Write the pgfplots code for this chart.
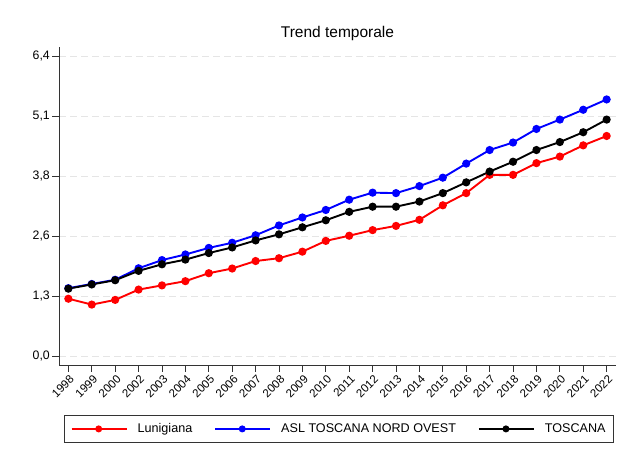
\documentclass[border=0pt]{standalone}
\usepackage{pgfplots}
\pgfplotsset{compat=1.18}
\usepackage{fontspec}
\setmainfont{Liberation Sans}
\begin{document}
\begin{tikzpicture}
\useasboundingbox (-59pt,-92pt) rectangle (562pt,365pt);
\begin{axis}[
  at={(0,0)}, anchor=south west,
  scale only axis, width=557pt, height=318pt,
  xmin=-0.4, xmax=23.4, ymin=-0.19, ymax=6.6,
  axis x line*=bottom, axis y line*=left,
  axis line style={draw=black!80, line width=0.8pt},
  xtick={0,...,23},
  xticklabels={1998,1999,2000,2002,2003,2004,2005,2006,2007,2008,2009,2010,2011,2012,2013,2014,2015,2016,2017,2018,2019,2020,2021,2022},
  ytick={0,1.28,2.56,3.84,5.12,6.4},
  yticklabels={{0,0},{1,3},{2,6},{3,8},{5,1},{6,4}},
  tick align=outside, major tick length=7pt,
  tick style={draw=black!80, line width=0.8pt},
  x tick label style={rotate=45, anchor=north east, font=\fontsize{11.5}{12}\selectfont, inner sep=1pt, yshift=-1pt},
  y tick label style={font=\fontsize{12.3}{13}\selectfont, inner sep=2pt},
  ymajorgrids, major grid style={dash pattern=on 7pt off 4pt, draw=black!10, line width=0.8pt},
  title={Trend temporale},
  title style={at={(0.5,1)}, anchor=center, yshift=7pt, font=\fontsize{15.5}{16}\selectfont},
  every axis plot/.append style={line width=1.9pt, mark=*, mark size=3.1pt},
  legend columns=3,
  legend style={at={(0.503,-0.201)}, anchor=center, draw=black!80, line width=0.8pt,
    font=\fontsize{12.6}{13}\selectfont, inner xsep=6pt, inner ysep=6pt,
    /tikz/every odd column/.append style={column sep=8pt},
    /tikz/every even column/.append style={column sep=20pt}},
  legend cell align=left,
  legend image code/.code={\draw[mark repeat=2, mark phase=2, #1, mark size=2.5pt] plot coordinates {(0pt,0pt) (27pt,0pt) (55pt,0pt)};},
]
\addplot[red, mark options={fill=red}] table {
x y
0 1.225
1 1.10
2 1.20
3 1.42
4 1.51
5 1.60
6 1.77
7 1.87
8 2.03
9 2.09
10 2.23
11 2.46
12 2.57
13 2.69
14 2.78
15 2.91
16 3.22
17 3.48
18 3.87
19 3.87
20 4.12
21 4.26
22 4.50
23 4.70
};
\addlegendentry{Lunigiana}
\addplot[blue, mark options={fill=blue}] table {
x y
0 1.45
1 1.54
2 1.63
3 1.875
4 2.05
5 2.17
6 2.31
7 2.42
8 2.58
9 2.79
10 2.96
11 3.12
12 3.34
13 3.49
14 3.48
15 3.63
16 3.81
17 4.11
18 4.40
19 4.56
20 4.85
21 5.05
22 5.26
23 5.48
};
\addlegendentry{ASL TOSCANA NORD OVEST}
\addplot[black, mark options={fill=black}] table {
x y
0 1.44
1 1.53
2 1.62
3 1.82
4 1.96
5 2.06
6 2.20
7 2.32
8 2.47
9 2.60
10 2.75
11 2.90
12 3.08
13 3.19
14 3.19
15 3.30
16 3.48
17 3.71
18 3.94
19 4.15
20 4.40
21 4.57
22 4.78
23 5.05
};
\addlegendentry{TOSCANA}
\end{axis}
\end{tikzpicture}
\end{document}
